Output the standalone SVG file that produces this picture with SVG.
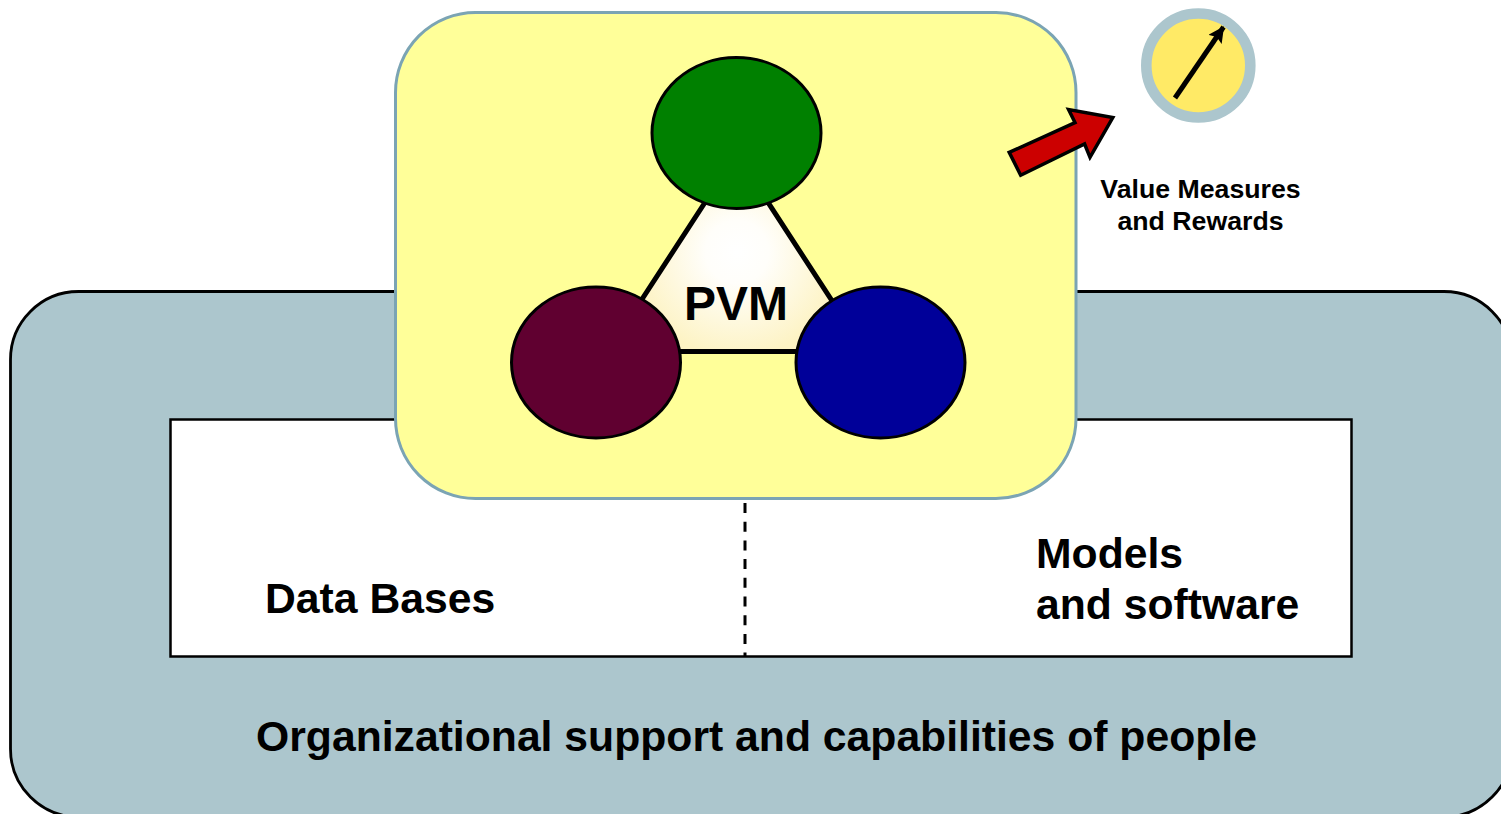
<svg xmlns="http://www.w3.org/2000/svg" width="1501" height="814" viewBox="0 0 1501 814">
<style>
text{font-family:"Liberation Sans",Arial,sans-serif;font-weight:bold;fill:#000}
.big{font-size:42.7px}
.small{font-size:26.7px;text-anchor:middle}
.blob{stroke:#000;stroke-width:3}
</style>
<defs>
<radialGradient id="glow" gradientUnits="userSpaceOnUse" cx="737" cy="252" r="105">
<stop offset="0" stop-color="#fff"/><stop offset="0.3" stop-color="#fffefa"/><stop offset="1" stop-color="#fdf3c4"/>
</radialGradient>
<marker id="tip" markerUnits="userSpaceOnUse" markerWidth="18" markerHeight="18" refX="15" refY="8" orient="auto">
<path d="M0 0L16 8L0 16L3 8Z" fill="#000"/>
</marker>
</defs>
<rect width="1501" height="814" fill="#fff"/>
<g id="support">
<rect x="10.500" y="291.500" width="1501.500" height="525.500" rx="68" ry="68" fill="#acc6cd" stroke="#000" stroke-width="2.800"/>
<text x="256" y="751" class="big">Organizational support and capabilities of people</text>
</g>
<g id="base">
<rect x="170.500" y="419.500" width="1181" height="237" fill="#fff" stroke="#000" stroke-width="2.500"/>
<text x="265" y="613" class="big">Data Bases</text>
<text x="1036" y="568" class="big">Models</text>
<text x="1036" y="619" class="big">and software</text>
</g>
<g id="connectors">
<line x1="745" y1="503" x2="745" y2="656" stroke="#000" stroke-width="3" stroke-dasharray="10 8.700"/>
</g>
<g id="pvm-panel">
<rect x="395.500" y="12.500" width="680.500" height="486" rx="80" ry="80" fill="#ffff99" stroke="#7ba4b4" stroke-width="3"/>
</g>
<g id="pvm-triangle">
<path d="M736.500 154L608 351.500H865Z" fill="url(#glow)" stroke="#000" stroke-width="5" stroke-linejoin="miter"/>
<text x="736" y="320" text-anchor="middle" style="font-size:48px">PVM</text>
</g>
<g id="circle-green"><ellipse cx="736.500" cy="133" rx="84.500" ry="75.500" fill="#008000" class="blob"/></g>
<g id="circle-maroon"><ellipse cx="596" cy="362.500" rx="84.500" ry="75.500" fill="#600030" class="blob"/></g>
<g id="circle-blue"><ellipse cx="880.500" cy="362.500" rx="84.500" ry="75.500" fill="#000099" class="blob"/></g>
<g id="red-arrow">
<path d="M1020.700 175.200L1009.200 152.400L1075 122.600L1068.600 109.500L1112.800 117.600L1090 157.300L1084.600 144Z" fill="#cc0000" stroke="#000" stroke-width="3.500" stroke-linejoin="miter"/>
</g>
<g id="gauge">
<circle cx="1198.300" cy="65.500" r="52" fill="#ffea66" stroke="#acc6cd" stroke-width="10.600"/>
<line x1="1175" y1="98" x2="1223.500" y2="27" stroke="#000" stroke-width="5" marker-end="url(#tip)"/>
</g>
<g id="value-label">
<text x="1200.500" y="198" class="small">Value Measures</text>
<text x="1200.500" y="230" class="small">and Rewards</text>
</g>
</svg>
